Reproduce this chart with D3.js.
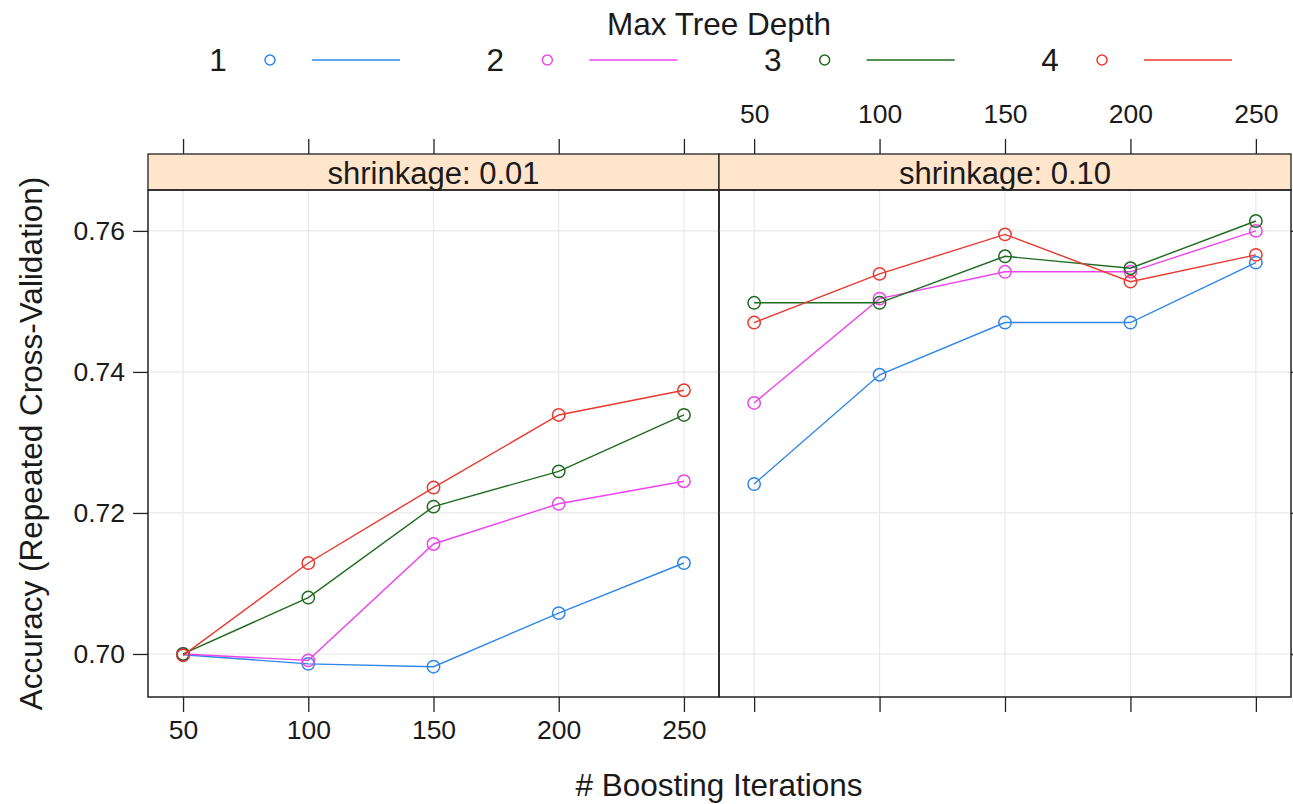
<!DOCTYPE html>
<html>
<head>
<meta charset="utf-8">
<script src="https://cdn.jsdelivr.net/npm/d3@7"></script>
<style>
  html, body { margin: 0; padding: 0; background: #fff; }
  svg { display: block; font-family: "Liberation Sans", Arial, Helvetica, sans-serif; }
</style>
</head>
<body>
<svg id="chart" width="1293" height="804"></svg>
<script>
// ---- data ----
const iterations = [50, 100, 150, 200, 250];
const depths = ["1", "2", "3", "4"];
const shrinkages = ["0.01", "0.10"];
const yTicks = [0.70, 0.72, 0.74, 0.76];
const xTicks = [50, 100, 150, 200, 250];

// shrinkage 0.01
const s001_d1 = [0.6999, 0.6986, 0.6982, 0.7058, 0.7129];
const s001_d2 = [0.7000, 0.6991, 0.7156, 0.7213, 0.7245];
const s001_d3 = [0.7000, 0.7080, 0.7209, 0.7259, 0.7339];
const s001_d4 = [0.6998, 0.7129, 0.7236, 0.7339, 0.7374];
// shrinkage 0.10
const s010_d1 = [0.7241, 0.7396, 0.7470, 0.7470, 0.7555];
const s010_d2 = [0.7356, 0.7504, 0.7542, 0.7542, 0.7600];
const s010_d3 = [0.7498, 0.7498, 0.7564, 0.7547, 0.7614];
const s010_d4 = [0.7470, 0.7539, 0.7595, 0.7528, 0.7566];

const seriesByShrinkage = {
  "0.01": [s001_d1, s001_d2, s001_d3, s001_d4],
  "0.10": [s010_d1, s010_d2, s010_d3, s010_d4]
};
const colors = ["#2f86e8", "#ee44ee", "#1f6b1f", "#e8392f"];

// ---- layout ----
const svg = d3.select("#chart");
const panelTop = 190, panelBottom = 697, stripTop = 154;
const panelX = [148, 719, 1291];
const textCol = "#1a1a1a";
const tickLen = 15;
const tickFont = 26.5;
const titleFont = 31.5;

const y = d3.scaleLinear().domain([0.6939, 0.7658]).range([panelBottom, panelTop]);

shrinkages.forEach((s, pi) => {
  const x0 = panelX[pi], x1 = panelX[pi + 1];
  const x = d3.scaleLinear().domain([36, 264]).range([x0, x1]);
  const g = svg.append("g");

  // grid
  g.selectAll(".vg").data(xTicks).join("line")
    .attr("x1", d => x(d)).attr("x2", d => x(d))
    .attr("y1", panelTop).attr("y2", panelBottom)
    .attr("stroke", "#e8e8e8").attr("stroke-width", 1.2);
  g.selectAll(".hg").data(yTicks).join("line")
    .attr("x1", x0).attr("x2", x1)
    .attr("y1", d => y(d)).attr("y2", d => y(d))
    .attr("stroke", "#e8e8e8").attr("stroke-width", 1.2);

  // series
  const line = d3.line().x((d, i) => x(iterations[i])).y(d => y(d));
  seriesByShrinkage[s].forEach((vals, k) => {
    g.append("path").datum(vals).attr("d", line)
      .attr("fill", "none").attr("stroke", colors[k]).attr("stroke-width", 1.4);
    g.selectAll(null).data(vals).join("circle")
      .attr("cx", (d, i) => x(iterations[i])).attr("cy", d => y(d))
      .attr("r", 6.2).attr("fill", "none")
      .attr("stroke", colors[k]).attr("stroke-width", 1.5);
  });

  // strip
  g.append("rect").attr("x", x0).attr("y", stripTop)
    .attr("width", x1 - x0).attr("height", panelTop - stripTop)
    .attr("fill", "#ffe5cc").attr("stroke", "#222").attr("stroke-width", 1.3);
  g.append("text").attr("x", (x0 + x1) / 2).attr("y", panelTop - 6)
    .attr("text-anchor", "middle").attr("font-size", 31).attr("fill", textCol)
    .text("shrinkage: " + s);

  // panel border
  g.append("rect").attr("x", x0).attr("y", panelTop)
    .attr("width", x1 - x0).attr("height", panelBottom - panelTop)
    .attr("fill", "none").attr("stroke", "#222").attr("stroke-width", 1.5);

  // top ticks (above strip)
  const topAxis = d3.axisTop(x).tickValues(xTicks).tickSize(tickLen).tickSizeOuter(0)
    .tickFormat(pi === 1 ? d3.format("d") : () => "");
  const ta = svg.append("g").attr("transform", `translate(0,${stripTop})`).call(topAxis);
  // bottom ticks
  const botAxis = d3.axisBottom(x).tickValues(xTicks).tickSize(tickLen).tickSizeOuter(0)
    .tickFormat(pi === 0 ? d3.format("d") : () => "");
  const ba = svg.append("g").attr("transform", `translate(0,${panelBottom})`).call(botAxis);
  [ta, ba].forEach(a => {
    a.select(".domain").remove();
    a.selectAll(".tick line").attr("stroke", "#222").attr("stroke-width", 1.3);
    a.selectAll(".tick text").attr("font-size", tickFont).attr("fill", textCol)
      .attr("font-family", "'Liberation Sans', Arial, sans-serif");
  });
  ta.selectAll(".tick text").attr("dy", "-0.5em");
  ba.selectAll(".tick text").attr("dy", "0.92em");
});

// left y axis
const la = svg.append("g").attr("transform", `translate(${panelX[0]},0)`)
  .call(d3.axisLeft(y).tickValues(yTicks).tickSize(tickLen).tickSizeOuter(0).tickFormat(d3.format(".2f")));
la.select(".domain").remove();
la.selectAll(".tick line").attr("stroke", "#222").attr("stroke-width", 1.3);
la.selectAll(".tick text").attr("font-size", tickFont).attr("fill", textCol).attr("x", -23)
  .attr("font-family", "'Liberation Sans', Arial, sans-serif");
// right y axis ticks
const ra = svg.append("g").attr("transform", `translate(${panelX[2]},0)`)
  .call(d3.axisRight(y).tickValues(yTicks).tickSize(tickLen).tickSizeOuter(0).tickFormat(() => ""));
ra.select(".domain").remove();
ra.selectAll(".tick line").attr("stroke", "#222").attr("stroke-width", 1.3);

// axis titles
svg.append("text").attr("x", 719).attr("y", 796).attr("text-anchor", "middle")
  .attr("font-size", titleFont).attr("fill", textCol).text("# Boosting Iterations");
svg.append("text").attr("transform", `translate(42,${(panelTop + panelBottom) / 2}) rotate(-90)`)
  .attr("text-anchor", "middle").attr("font-size", titleFont).attr("fill", textCol)
  .text("Accuracy (Repeated Cross-Validation)");

// legend
svg.append("text").attr("x", 719).attr("y", 35).attr("text-anchor", "middle")
  .attr("font-size", titleFont).attr("fill", textCol).text("Max Tree Depth");
const legX = d3.scalePoint().domain(depths).range([218, 1050]);
const lg = svg.selectAll(".leg").data(depths).join("g")
  .attr("transform", d => `translate(${legX(d)},60)`);
lg.append("text").attr("x", 0).attr("y", 11).attr("text-anchor", "middle")
  .attr("font-size", titleFont).attr("fill", textCol).text(d => d);
lg.append("circle").attr("cx", 52).attr("cy", 0).attr("r", 5)
  .attr("fill", "none").attr("stroke", (d, i) => colors[i]).attr("stroke-width", 1.5);
lg.append("line").attr("x1", 94).attr("x2", 182).attr("y1", 0).attr("y2", 0)
  .attr("stroke", (d, i) => colors[i]).attr("stroke-width", 1.6);
</script>
</body>
</html>
